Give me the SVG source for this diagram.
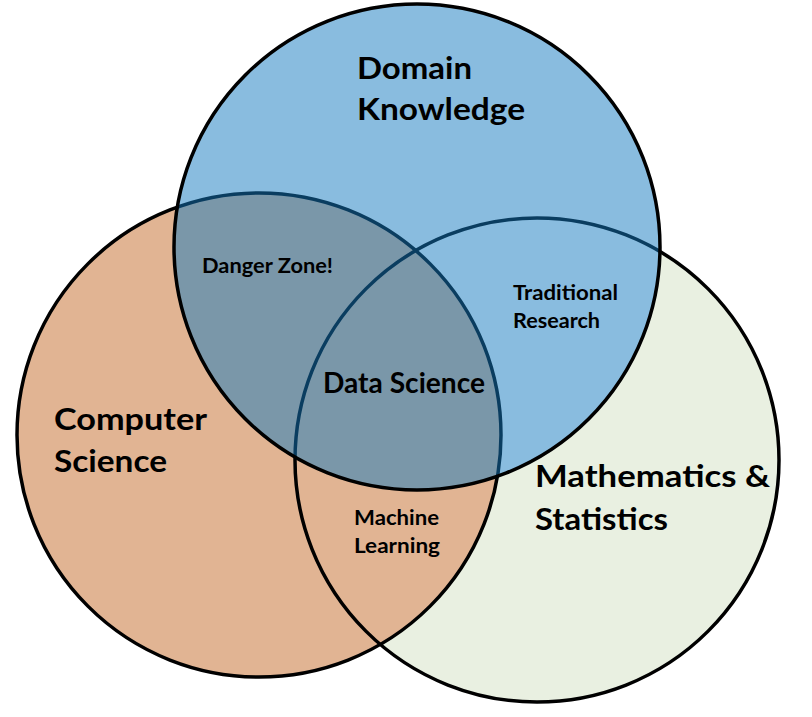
<svg xmlns="http://www.w3.org/2000/svg" xmlns:xlink="http://www.w3.org/1999/xlink" width="812" height="717" viewBox="0 0 812 717">
  <style>
    .outline { fill: none; stroke: #000; stroke-width: 3.5; }
    .big { font-family: Lato, "Open Sans", "Liberation Sans", sans-serif; font-weight: 700; font-size: 31px; fill: #000; }
    .mid { font-family: Lato, "Open Sans", "Liberation Sans", sans-serif; font-weight: 700; font-size: 28px; fill: #000; }
    .small { font-family: Lato, "Open Sans", "Liberation Sans", sans-serif; font-weight: 700; font-size: 21px; fill: #000; }
  </style>
  <defs>
    <circle id="c-cs" cx="259" cy="435" r="242"/>
    <circle id="c-ms" cx="537" cy="460" r="242"/>
    <circle id="c-dk" cx="417" cy="247" r="243"/>
    <!-- the pale green tint stays outside the Domain Knowledge disc -->
    <mask id="outside-dk" maskUnits="userSpaceOnUse" x="0" y="0" width="812" height="717">
      <rect width="812" height="717" fill="#fff"/>
      <use xlink:href="#c-dk" fill="#000"/>
    </mask>
  </defs>

  <rect width="812" height="717" fill="#fff"/>

  <!-- Mathematics & Statistics -->
  <g id="mathematics-statistics">
    <use xlink:href="#c-ms" fill="#E9F0E1" mask="url(#outside-dk)"/>
  </g>

  <!-- Computer Science -->
  <g id="computer-science">
    <use xlink:href="#c-cs" fill="#E1B493"/>
  </g>

  <!-- outlines of the two lower sets, tinted by the translucent set above -->
  <g id="lower-outlines">
    <use xlink:href="#c-ms" class="outline"/>
    <use xlink:href="#c-cs" class="outline"/>
  </g>

  <!-- Domain Knowledge: translucent so overlaps darken -->
  <g id="domain-knowledge">
    <use xlink:href="#c-dk" fill="#1379BF" fill-opacity="0.5"/>
    <use xlink:href="#c-dk" class="outline"/>
  </g>

  <!-- set labels -->
  <g id="labels">
    <text class="big" x="357" y="79" textLength="115" lengthAdjust="spacingAndGlyphs">Domain</text>
    <text class="big" x="357" y="120" textLength="168" lengthAdjust="spacingAndGlyphs">Knowledge</text>
    <text class="big" x="54" y="430" textLength="153" lengthAdjust="spacingAndGlyphs">Computer</text>
    <text class="big" x="54" y="472" textLength="113" lengthAdjust="spacingAndGlyphs">Science</text>
    <text class="big" x="535" y="487" textLength="235" lengthAdjust="spacingAndGlyphs">Mathematics &amp;</text>
    <text class="big" x="535" y="530" textLength="133" lengthAdjust="spacingAndGlyphs">Statistics</text>
  </g>

  <!-- overlap labels -->
  <g id="overlap-labels">
    <text class="small" x="202" y="273" textLength="131" lengthAdjust="spacingAndGlyphs">Danger Zone!</text>
    <text class="small" x="513" y="300" textLength="105" lengthAdjust="spacingAndGlyphs">Traditional</text>
    <text class="small" x="513" y="328" textLength="87" lengthAdjust="spacingAndGlyphs">Research</text>
    <text class="mid" x="323" y="393" textLength="162" lengthAdjust="spacingAndGlyphs">Data Science</text>
    <text class="small" x="354" y="525" textLength="85" lengthAdjust="spacingAndGlyphs">Machine</text>
    <text class="small" x="354" y="553" textLength="86" lengthAdjust="spacingAndGlyphs">Learning</text>
  </g>
</svg>
